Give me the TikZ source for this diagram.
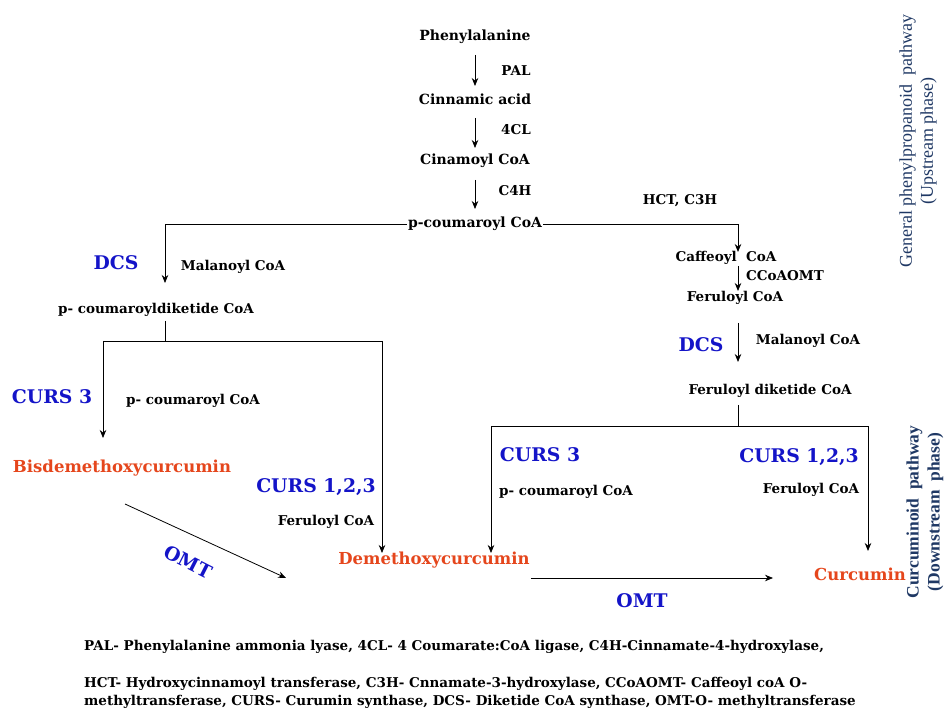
\documentclass[tikz,border=0pt]{standalone}
\usepackage{fontspec}
\setmainfont{DejaVu Serif}
\newfontfamily\sidefont{Liberation Serif}
\usetikzlibrary{arrows.meta}
\definecolor{cblue}{HTML}{1414C8}
\definecolor{cred}{HTML}{E5461C}
\definecolor{cnavy}{HTML}{1F3864}
\begin{document}
\begin{tikzpicture}[x=1pt,y=-1pt,
  met/.style={font=\fontsize{14}{16}\selectfont\bfseries, inner sep=1pt},
  smet/.style={font=\fontsize{13.5}{15}\selectfont\bfseries, inner sep=1pt},
  blu/.style={text=cblue, font=\fontsize{18.8}{21}\selectfont\bfseries, inner sep=1pt},
  prod/.style={text=cred, font=\fontsize{16.5}{19}\selectfont\bfseries, inner sep=1pt},
  side/.style={text=cnavy, font=\sidefont\fontsize{18}{21}\selectfont, align=center, rotate=90, inner sep=1pt},
  foot/.style={font=\fontsize{13.5}{15}\selectfont\bfseries, anchor=west, inner sep=0pt},
  arr/.style={-{Stealth[length=8pt,width=6.5pt]}, line width=0.8pt},
  ln/.style={line width=0.8pt}]
\useasboundingbox (0,0) rectangle (945,708);

% upstream
\node[met] (phe) at (475,37) {Phenylalanine};
\node[met] (cin) at (475,99) {Cinnamic acid};
\node[met] (cnc) at (475,161) {Cinamoyl CoA};
\node[met] (pcou) at (475,224) {p-coumaroyl CoA};
\node[smet] (pal) at (516,71) {PAL};
\node[smet] (fcl) at (516,130) {4CL};
\node[smet] (c4h) at (515,191) {C4H};
\draw[arr] (475,55) coordinate (a1) -- (475,86) coordinate (a2);
\draw[arr] (475,118) coordinate (b1) -- (475,148) coordinate (b2);
\draw[arr] (475,180) coordinate (c1) -- (475,209) coordinate (c2);

% left branch
\coordinate (lt) at (165,283);
\draw[arr] (pcou.west) -| (lt);
\node[blu] (dcs1) at (116,263) {DCS};
\node[smet] (mal1) at (233,267) {Malanoyl CoA};
\node[smet] (pcd) at (156,310) {p- coumaroyldiketide CoA};
\coordinate (lj) at (165,341);
\draw[ln] (165,321) -- (lj);
\coordinate (lL) at (103,341);
\coordinate (lR) at (382,341);
\draw[ln] (lL) -- (lR);
\draw[arr] (lL) -- (103,438);
\draw[arr] (lR) -- (382,553);
\node[blu] (curs3a) at (52,397) {CURS 3};
\node[smet] (pca) at (193,401) {p- coumaroyl CoA};
\node[prod] (bdmc) at (122,468) {Bisdemethoxycurcumin};
\node[blu] (curs123a) at (316,487) {CURS 1,2,3};
\node[smet] (fera) at (326,522) {Feruloyl CoA};
\node[prod] (dmc) at (434,560) {Demethoxycurcumin};
\draw[arr] (125,504) -- (286,578);
\node[blu, rotate=-27] (omt1) at (188,562) {OMT};

% right branch
\coordinate (rt) at (738,252);
\draw[arr] (pcou.east) -| (rt);
\node[smet] (hct) at (680,201) {HCT, C3H};
\node[smet] (caf) at (726,258) {Caffeoyl\ \ CoA};
\node[smet] (ccoa) at (785,276) {CCoAOMT};
\node[smet] (fer) at (735,298) {Feruloyl CoA};
\draw[arr] (738,266) -- (738,291);
\node[blu] (dcs2) at (701,345) {DCS};
\node[smet] (mal2) at (808,341) {Malanoyl CoA};
\draw[arr] (738,323) -- (738,362);
\node[smet] (fdk) at (770,391) {Feruloyl diketide CoA};
\coordinate (rj) at (738,426);
\draw[ln] (738,405) -- (rj);
\coordinate (rL) at (491,426);
\coordinate (rR) at (868,426);
\draw[ln] (rL) -- (rR);
\draw[arr] (rL) -- (491,553);
\draw[arr] (rR) -- (868,551);
\node[blu] (curs3b) at (540,455) {CURS 3};
\node[smet] (pcb) at (566,492) {p- coumaroyl CoA};
\node[blu] (curs123b) at (799,457) {CURS 1,2,3};
\node[smet] (ferb) at (811,490) {Feruloyl CoA};
\node[prod] (cur) at (860,574) {Curcumin};
\draw[arr] (dmc.east |- 0,578) -- (773,578);
\node[blu] (omt2) at (642,601) {OMT};

% side labels
\node[side] (up) at (918,141) {General phenylpropanoid\ \ pathway\\(Upstream phase)};
\node[side, font=\sidefont\fontsize{17.5}{21}\selectfont\bfseries] (down) at (925,512) {Curcuminoid\ \ pathway\\(Downstream\ \ phase)};

% footer
\node[foot] (f1) at (84,647) {PAL- Phenylalanine ammonia lyase, 4CL- 4 Coumarate:CoA ligase, C4H-Cinnamate-4-hydroxylase,};
\node[foot] (f2) at (84,684) {HCT- Hydroxycinnamoyl transferase, C3H- Cnnamate-3-hydroxylase, CCoAOMT- Caffeoyl coA O-};
\node[foot] (f3) at (84,702) {methyltransferase, CURS- Curumin synthase, DCS- Diketide CoA synthase, OMT-O- methyltransferase};
\end{tikzpicture}
\end{document}
